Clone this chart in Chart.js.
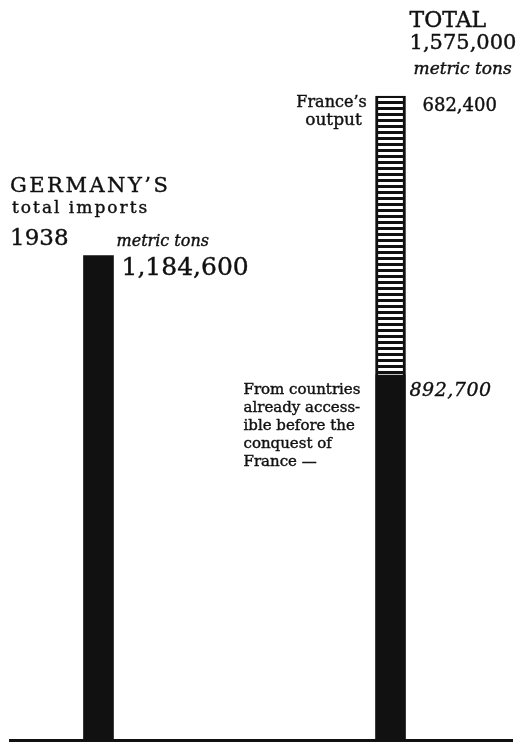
<!DOCTYPE html>
<html>
<head>
<meta charset="utf-8">
<title>Germany's imports, metric tons</title>
<script src="https://cdn.jsdelivr.net/npm/chart.js@4.4.1/dist/chart.umd.min.js"></script>
<style>
  html, body { margin: 0; padding: 0; background: #fff; }
  #wrap { width: 523px; height: 744px; }
</style>
</head>
<body>
<div id="wrap"><canvas id="tonsChart"></canvas></div>
<script>
// metric tons
const categories = ['Germany 1938', 'Total with France'];
const accessibleImports = [1184600, 892700];
const franceOutput = [null, 682400];
const totalTons = 1575000;

const serif = '"DejaVu Serif", "Liberation Serif", serif';
const ink = '#111';

const canvas = document.getElementById('tonsChart');

// black bar with thin white horizontal rules
function ruledPattern(ctx) {
  const tile = document.createElement('canvas');
  tile.width = 4;
  tile.height = 6;
  const t = tile.getContext('2d');
  t.fillStyle = ink;
  t.fillRect(0, 0, 4, 6);
  t.fillStyle = '#fff';
  t.fillRect(0, 2, 4, 3);
  return ctx.createPattern(tile, 'repeat');
}

const fmt = v => v.toLocaleString('en-US');

// lettering is a bit heavier than the regular face, so stroke it lightly too
function put(ctx, text, x, y, font, align, spacing) {
  ctx.font = font;
  ctx.textAlign = align || 'left';
  ctx.letterSpacing = spacing || '0px';
  ctx.fillText(text, x, y);
  ctx.strokeText(text, x, y);
}

const notes = {
  id: 'notes',
  afterDatasetsDraw(chart) {
    const ctx = chart.ctx;
    const low = chart.getDatasetMeta(0).data;
    const high = chart.getDatasetMeta(1).data;
    const left = low[0], under = low[1], over = high[1];
    const lw = left.width / 2, rw = over.width / 2;
    const x0 = chart.chartArea.left;

    ctx.save();
    ctx.fillStyle = ink;
    ctx.strokeStyle = ink;
    ctx.lineWidth = 0.4;
    ctx.textBaseline = 'alphabetic';

    // left bar
    put(ctx, 'GERMANY\u2019S', x0, left.y - 64, '21px ' + serif, 'left', '2.5px');
    put(ctx, 'total imports', x0 + 2, left.y - 43, '17px ' + serif, 'left', '2px');
    put(ctx, '1938', x0, left.y - 11, '23px ' + serif);
    put(ctx, 'metric tons', left.x + lw + 3, left.y - 10, 'italic 16px ' + serif);
    put(ctx, fmt(accessibleImports[0]), left.x + lw + 8, left.y + 19, '25px ' + serif);

    // right bar, total
    put(ctx, 'TOTAL', over.x + rw + 4, over.y - 69, '22px ' + serif);
    put(ctx, fmt(totalTons), over.x + rw + 4, over.y - 47, '21px ' + serif);
    put(ctx, 'metric tons', over.x + rw + 8, over.y - 22, 'italic 17px ' + serif);

    // France's share
    put(ctx, 'France\u2019s', over.x - rw - 44, over.y + 11, '16px ' + serif, 'center');
    put(ctx, 'output', over.x - rw - 42, over.y + 29, '17px ' + serif, 'center');
    put(ctx, fmt(franceOutput[1]), over.x + rw + 17, over.y + 15, '18px ' + serif);

    // accessible share
    put(ctx, fmt(accessibleImports[1]), under.x + rw + 4, under.y + 21, 'italic 19px ' + serif, 'left', '0.5px');
    const lines = ['From countries', 'already access-', 'ible before the', 'conquest of', 'France \u2014'];
    lines.forEach((s, i) => {
      put(ctx, s, under.x - rw - 132, under.y + 19 + i * 18, '15px ' + serif);
    });

    ctx.restore();
  }
};

new Chart(canvas, {
  type: 'bar',
  data: {
    datasets: [{
      label: 'From countries already accessible',
      data: categories.map((c, i) => ({x: i, y: accessibleImports[i]})),
      backgroundColor: ink,
      borderWidth: 0,
      grouped: false
    }, {
      label: "France's output",
      data: categories.map((c, i) => ({x: i, y: franceOutput[i]})),
      backgroundColor: ruledPattern(canvas.getContext('2d')),
      borderColor: ink,
      borderWidth: {left: 3, right: 3, top: 2, bottom: 0},
      borderSkipped: false,
      grouped: false
    }]
  },
  options: {
    responsive: true,
    maintainAspectRatio: false,
    animation: false,
    barThickness: 30,
    layout: {
      padding: {left: 10, right: 11, top: 4, bottom: 4}
    },
    plugins: {
      legend: {display: false},
      tooltip: {enabled: false}
    },
    scales: {
      x: {
        type: 'linear',
        min: -0.303,
        max: 1.416,
        offset: false,
        ticks: {display: false},
        grid: {display: false, drawTicks: false},
        border: {display: true, color: ink, width: 3}
      },
      y: {
        display: false,
        stacked: true,
        min: 0,
        max: 1800000
      }
    }
  },
  plugins: [notes]
});
</script>
</body>
</html>
